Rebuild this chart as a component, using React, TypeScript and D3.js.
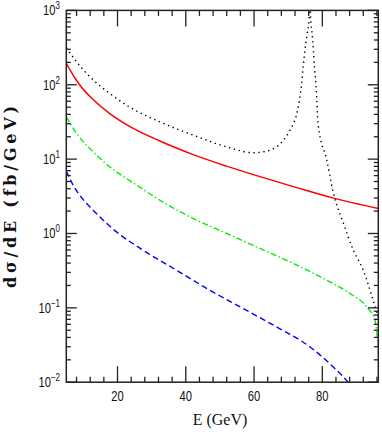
import React from 'react';
import * as d3 from 'd3';

const W = 382;
const H = 436;

// Axis ticks
const xMajorTicks = [20, 40, 60, 80];
const xMinorTicks = [8, 12, 16, 24, 28, 32, 36, 44, 48, 52, 56, 64, 68, 72, 76, 84, 88, 92, 96];
const yDecadeExps = [-2, -1, 0, 1, 2, 3];
const yMinorMultipliers = [2, 3, 4, 5, 6, 7, 8, 9];

// Series: red solid
const redE = [5, 6.9, 8.94, 12.85, 17.74, 22.64, 32.4, 42.17, 51.96, 61.73, 71.5, 83.2, 96.4];
const redV = [194, 137, 99.1, 63.2, 41.0, 29.1, 17.5, 11.5, 8.05, 5.81, 4.27, 2.99, 2.17];

// Series: green dash-dot
const greenE = [5, 8, 12.9, 17.7, 22.6, 26.5, 32.4, 42.2, 52, 61.7, 71.5, 81.3, 88.1, 93, 95.4, 96.4];
const greenV = [37, 22.2, 12.5, 7.9, 5.5, 4.2, 2.8, 1.59, 1.0, 0.63, 0.395, 0.235, 0.156, 0.103, 0.068, 0.03];

// Series: blue dashed
const blueE = [5, 7, 9.9, 12.85, 19.7, 27.5, 37.3, 47.1, 56.8, 66.6, 76.4, 83.2, 87.6, 90];
const blueV = [6.9, 4.47, 2.87, 2.06, 1.05, 0.596, 0.32, 0.172, 0.098, 0.0553, 0.0298, 0.016, 0.0099, 0.007];

// Series: black dotted (resonance)
const blackE = [5, 8, 12.85, 17.7, 22.6, 32.4, 42.2, 52, 59.8, 64.7, 68.6, 71.5, 72.3, 73.3, 73.96, 74.4, 74.9, 75.6, 76.1, 76.35, 76.6, 77, 77.4, 77.7, 78.1, 78.4, 78.6, 78.8, 81.3, 83.2, 86.2, 89.1, 92, 94.9, 96.4];
const blackV = [315, 204, 116, 76.6, 53.3, 31.7, 21, 14.6, 12.2, 13.2, 18, 30, 37.1, 62.2, 104.5, 175, 293, 492, 743, 1500, 743, 492, 293, 175, 104.5, 62.2, 37.1, 28.7, 9.7, 3.6, 1.36, 0.596, 0.32, 0.126, 0.075];

const X0 = 66.3, X1 = 378.3, Y0 = 10.4, Y1 = 382.2;

export default function App() {
  const x = d3.scaleLinear().domain([5, 96.4]).range([X0, X1]);
  const y = d3.scaleLog().domain([1e-2, 1e3]).range([Y1, Y0]);

  const mk = (E: number[], V: number[]) =>
    d3.line<number>()
      .x((_, i) => x(E[i]))
      .y((_, i) => y(V[i]))
      .curve(d3.curveMonotoneX)(E)!;

  const axisColor = '#222';
  const sw = 1.3;
  const ticks: React.ReactNode[] = [];
  xMajorTicks.forEach((t) => {
    const px = x(t);
    ticks.push(<line key={'xb' + t} x1={px} x2={px} y1={Y1} y2={Y1 - 16} stroke={axisColor} strokeWidth={sw} />);
    ticks.push(<line key={'xt' + t} x1={px} x2={px} y1={Y0} y2={Y0 + 16} stroke={axisColor} strokeWidth={sw} />);
  });
  xMinorTicks.forEach((t) => {
    const px = x(t);
    ticks.push(<line key={'xmb' + t} x1={px} x2={px} y1={Y1} y2={Y1 - 5.5} stroke={axisColor} strokeWidth={sw} />);
    ticks.push(<line key={'xmt' + t} x1={px} x2={px} y1={Y0} y2={Y0 + 5.5} stroke={axisColor} strokeWidth={sw} />);
  });
  yDecadeExps.forEach((e) => {
    const py = y(Math.pow(10, e));
    ticks.push(<line key={'yl' + e} x1={X0} x2={X0 + 10.5} y1={py} y2={py} stroke={axisColor} strokeWidth={sw} />);
    ticks.push(<line key={'yr' + e} x1={X1} x2={X1 - 10.5} y1={py} y2={py} stroke={axisColor} strokeWidth={sw} />);
    if (e < 3) {
      yMinorMultipliers.forEach((m) => {
        const pm = y(m * Math.pow(10, e));
        ticks.push(<line key={'yml' + e + m} x1={X0} x2={X0 + 4.5} y1={pm} y2={pm} stroke={axisColor} strokeWidth={sw} />);
        ticks.push(<line key={'ymr' + e + m} x1={X1} x2={X1 - 4.5} y1={pm} y2={pm} stroke={axisColor} strokeWidth={sw} />);
      });
    }
  });

  const numFont = "'Liberation Sans', Arial, sans-serif";

  return (
    <svg width={W} height={H} style={{ position: 'absolute', left: 0, top: 0, background: '#fff' }}>
      <defs>
        <clipPath id="plotclip">
          <rect x={X0} y={Y0} width={X1 - X0} height={Y1 - Y0} />
        </clipPath>
      </defs>
      <g clipPath="url(#plotclip)" fill="none">
        <path d={mk(blackE, blackV)} stroke="#000" strokeWidth={1.4} strokeDasharray="1.4,3.6" />
        <path d={mk(redE, redV)} stroke="#ff0000" strokeWidth={1.5} />
        <path d={mk(greenE, greenV)} stroke="#00ee00" strokeWidth={1.4} strokeDasharray="6,2.5,1.5,2.5" />
        <path d={mk(blueE, blueV)} stroke="#0000ff" strokeWidth={1.4} strokeDasharray="6,3.5" />
      </g>
      <rect x={X0} y={Y0} width={X1 - X0} height={Y1 - Y0} fill="none" stroke={axisColor} strokeWidth={1.5} />
      {ticks}
      {xMajorTicks.map((t) => (
        <g key={'xl' + t} transform={`translate(${x(t)},${397}) scale(0.8,1)`}>
          <text x={0} y={0} textAnchor="middle" dominantBaseline="central" fontFamily={numFont} fontSize={14} fill="#111">
            {String(t)}
          </text>
        </g>
      ))}
      {yDecadeExps.map((e) => (
        <g key={'ylab' + e} transform={`translate(${60},${y(Math.pow(10, e)) + 5}) scale(0.8,1)`}>
          <text x={0} y={0} textAnchor="end" fontFamily={numFont} fontSize={14} fill="#111">
            10
            <tspan dy={-6} fontSize={10}>{e < 0 ? '\u2212' + Math.abs(e) : String(e)}</tspan>
          </text>
        </g>
      ))}
      <text x={220} y={425} textAnchor="middle" fontFamily="'Liberation Serif', 'Times New Roman', serif" fontSize={16} fill="#111">
        E (GeV)
      </text>
      <text
        transform={`translate(15.5,197) rotate(-90)`}
        textAnchor="middle"
        fontFamily="'DejaVu Serif', serif"
        fontWeight="bold"
        fontSize={16}
        textLength={182}
        lengthAdjust="spacing"
        fill="#111"
      >
        dσ/dE (fb/GeV)
      </text>
    </svg>
  );
}
